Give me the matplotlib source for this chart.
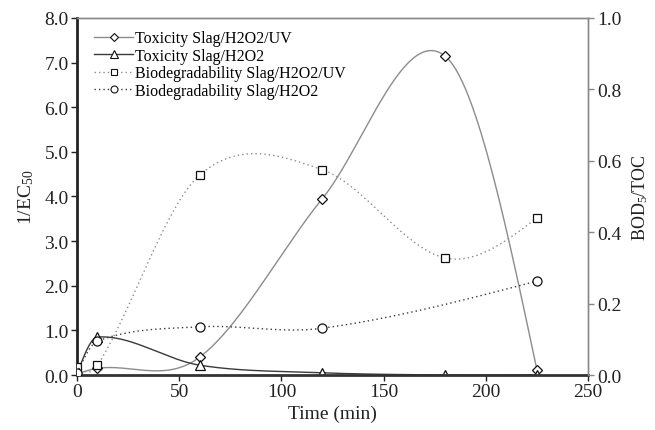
import numpy as np
import matplotlib
matplotlib.use("Agg")
import matplotlib.pyplot as plt
from matplotlib.lines import Line2D

# Data
time = [0, 10, 60, 120, 180, 225]
tox_uv = [0.02, 0.15, 0.40, 3.95, 7.15, 0.12]
tox_h2o2 = [0.02, 0.85, 0.22, 0.05, 0.0, 0.0]
time_bio_uv = [0, 10, 60, 120, 180, 225]
bio_uv = [0.022, 0.027, 0.56, 0.575, 0.328, 0.44]
time_bio_h2o2 = [0, 10, 60, 120, 225]
bio_h2o2 = [0.005, 0.095, 0.135, 0.131, 0.263]

labels = ['Toxicity Slag/H2O2/UV', 'Toxicity Slag/H2O2',
          'Biodegradability Slag/H2O2/UV', 'Biodegradability Slag/H2O2']

plt.rcParams['font.family'] = ['Liberation Serif', 'DejaVu Serif']
plt.rcParams['mathtext.fontset'] = 'custom'
plt.rcParams['mathtext.rm'] = 'Liberation Serif'
plt.rcParams['mathtext.it'] = 'Liberation Serif:italic'


def smooth_curve(x, y, n=60):
    """Cardinal (Catmull-Rom) Hermite spline through the points."""
    x = np.asarray(x, float)
    y = np.asarray(y, float)
    k = len(x)
    m = np.zeros(k)
    for i in range(1, k - 1):
        m[i] = (y[i + 1] - y[i - 1]) / (x[i + 1] - x[i - 1])
    d0 = (y[1] - y[0]) / (x[1] - x[0])
    d1 = (y[-1] - y[-2]) / (x[-1] - x[-2])
    m[0] = (3 * d0 - m[1]) / 2
    m[-1] = (3 * d1 - m[-2]) / 2
    xs_all, ys_all = [], []
    for i in range(k - 1):
        h = x[i + 1] - x[i]
        t = np.linspace(0, 1, n)
        h00 = 2 * t**3 - 3 * t**2 + 1
        h10 = t**3 - 2 * t**2 + t
        h01 = -2 * t**3 + 3 * t**2
        h11 = t**3 - t**2
        xs_all.append(x[i] + t * h)
        ys_all.append(h00 * y[i] + h10 * h * m[i] + h01 * y[i + 1] + h11 * h * m[i + 1])
    return np.concatenate(xs_all), np.concatenate(ys_all)


fig = plt.figure(figsize=(6.55, 4.31), dpi=100)
ax = fig.add_axes([0.1176, 0.1276, 0.7801, 0.8284])
ax2 = ax.twinx()

c_uv = '#8c8c8c'
c_h = '#3a3a3a'
dot = (0, (1.0, 2.2))
mk = dict(markerfacecolor='white', markeredgecolor='#111111', markeredgewidth=0.9)

xs, ys = smooth_curve(time, tox_uv)
ax.plot(xs, ys, color=c_uv, lw=1.0)
ax.plot(time, tox_uv, ls='none', marker='D', markersize=5.5, **mk)
xs, ys = smooth_curve(time, tox_h2o2)
ax.plot(xs, ys, color=c_h, lw=1.0)
ax.plot(time, tox_h2o2, ls='none', marker='^', markersize=7, **mk)

xs, ys = smooth_curve(time_bio_uv, bio_uv)
ax2.plot(xs, ys, color=c_uv, lw=1.0, ls=dot)
ax2.plot(time_bio_uv, bio_uv, ls='none', marker='s', markersize=6, **mk)
xs, ys = smooth_curve(time_bio_h2o2, bio_h2o2)
ax2.plot(xs, ys, color=c_h, lw=1.0, ls=dot)
ax2.plot(time_bio_h2o2, bio_h2o2, ls='none', marker='o', markersize=6.5, **mk)

lmk = dict(markerfacecolor='white', markeredgecolor='#111111', markeredgewidth=0.8)
handles = [
    Line2D([], [], color=c_uv, lw=1.0, marker='D', markersize=4.5, **lmk),
    Line2D([], [], color=c_h, lw=1.0, marker='^', markersize=5.5, **lmk),
    Line2D([], [], color=c_uv, lw=1.0, ls=dot, marker='s', markersize=5, **lmk),
    Line2D([], [], color=c_h, lw=1.0, ls=dot, marker='o', markersize=5, **lmk),
]
ax2.legend(handles, labels, loc='upper left', bbox_to_anchor=(0.034, 0.966), frameon=False,
           fontsize=11.5, handlelength=2.4, handletextpad=0.15, labelspacing=0.1,
           borderaxespad=0.0, borderpad=0.0)

ax.set_xlim(0, 250)
ax.set_ylim(0, 8)
ax2.set_ylim(0, 1)
ax.set_xticks([0, 50, 100, 150, 200, 250])
yt = np.arange(0, 8.1, 1.0)
ax.set_yticks(yt)
ax.set_yticklabels([f'{v:.1f}' for v in yt])
yt2 = np.arange(0, 1.01, 0.2)
ax2.set_yticks(yt2)
ax2.set_yticklabels([f'{v:.1f}' for v in yt2])

for a in (ax, ax2):
    a.tick_params(labelsize=14, direction='out', length=4, width=1, colors='#222222', pad=2)
ax2.tick_params(axis='y', color='#888888', labelcolor='#222222', pad=3)
ax.spines['left'].set_linewidth(2.0)
ax.spines['left'].set_color('#222222')
ax.spines['bottom'].set_linewidth(2.0)
ax.spines['bottom'].set_color('#333333')
for a in (ax, ax2):
    a.spines['top'].set_color('#888888')
    a.spines['top'].set_linewidth(1.0)
    a.spines['right'].set_color('#888888')
    a.spines['right'].set_linewidth(1.0)
ax2.spines['left'].set_visible(False)
ax2.spines['bottom'].set_visible(False)

ax.set_xlabel('Time (min)', fontsize=14, color='#222222', labelpad=3)
ax.set_ylabel('1/EC$_{50}$', fontsize=14, color='#222222', labelpad=6)
ax2.set_ylabel('BOD$_5$/TOC', fontsize=13, color='#222222', rotation=90, labelpad=6)

fig.savefig('out.png', dpi=100)
